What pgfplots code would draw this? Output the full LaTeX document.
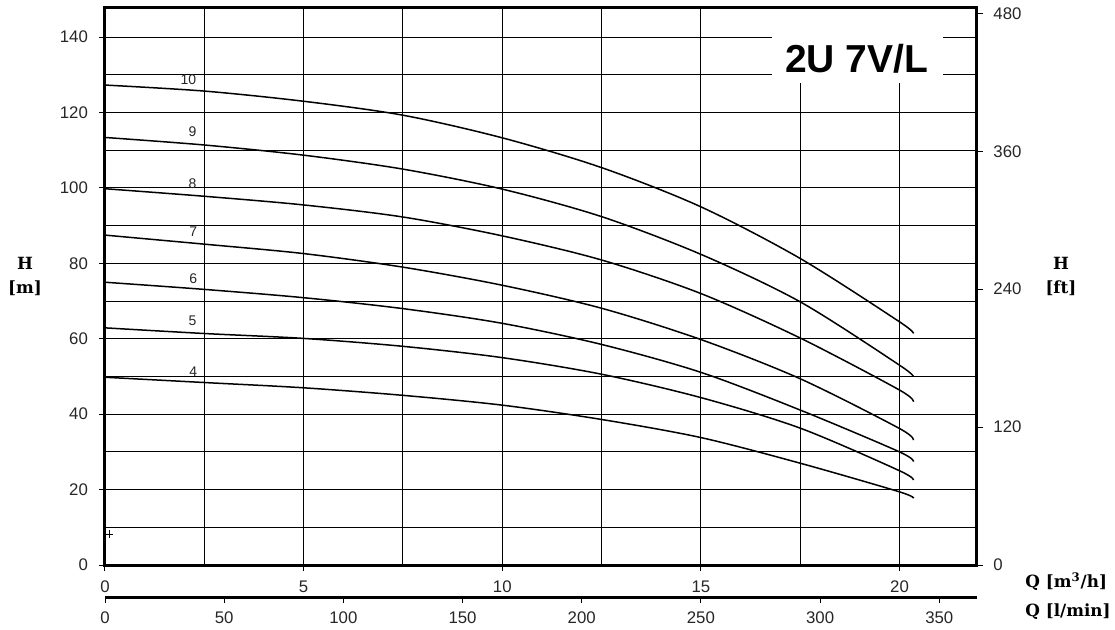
\documentclass[border=0pt]{standalone}
\usepackage{pgfplots}
\pgfplotsset{compat=1.18}
\usepackage{fontspec}
\setmainfont{Liberation Sans}
\newfontfamily\labfont{DejaVu Serif}

\begin{document}
\begin{tikzpicture}
\useasboundingbox (0,0) rectangle (557.5pt,314.5pt);
% ---------------- main axis (H in m, Q in m3/h)
\begin{axis}[
  at={(52.5pt,32pt)}, anchor=south west,
  scale only axis, width=436pt, height=279pt,
  xmin=0, xmax=21.95, ymin=0, ymax=148,
  xtick={0,5,...,20}, minor xtick={2.5,7.5,12.5,17.5},
  ytick={0,20,...,140}, minor ytick={10,30,...,130},
  grid=both,
  major grid style={black, line width=0.5pt},
  minor grid style={black, line width=0.5pt},
  axis line style={black, line width=1.5pt},
  tick align=outside, major tick length=3pt, minor tick length=0pt,
  tick style={black, line width=0.5pt},
  xtick pos=lower, ytick pos=left,
  /pgf/number format/assume math mode=true,
  tick label style={font=\fontsize{8.4}{9}\selectfont, text=black!85},
  yticklabel style={xshift=-2pt},
  xticklabel style={yshift=-1.5pt},
  clip=false,
]
\addplot[black, line width=0.75pt, smooth] coordinates {(0,127.3)(2.5,125.7)(5,123.0)(7.5,119.3)(10,113.3)(12.5,105.4)(15,95.0)(17.5,81.3)(20,64.5)(20.35,61.4)};
\addplot[black, line width=0.75pt, smooth] coordinates {(0,113.4)(2.5,111.4)(5,108.7)(7.5,105.0)(10,99.7)(12.5,92.4)(15,82.4)(17.5,69.8)(20,53.0)(20.35,49.9)};
\addplot[black, line width=0.75pt, smooth] coordinates {(0,99.8)(2.5,97.8)(5,95.5)(7.5,92.3)(10,87.3)(12.5,80.9)(15,72.0)(17.5,60.2)(20,46.4)(20.35,43.3)};
\addplot[black, line width=0.75pt, smooth] coordinates {(0,87.5)(2.5,85.1)(5,82.6)(7.5,79.0)(10,74.2)(12.5,68.1)(15,59.8)(17.5,49.4)(20,36.2)(20.35,33.1)};
\addplot[black, line width=0.75pt, smooth] coordinates {(0,75.0)(2.5,73.1)(5,70.9)(7.5,68.0)(10,64.1)(12.5,58.5)(15,51.1)(17.5,41.1)(20,30.0)(20.35,27.4)};
\addplot[black, line width=0.75pt, smooth] coordinates {(0,62.9)(2.5,61.4)(5,60.1)(7.5,58.0)(10,55.0)(12.5,50.6)(15,44.4)(17.5,36.3)(20,25.0)(20.35,22.5)};
\addplot[black, line width=0.75pt, smooth] coordinates {(0,49.8)(2.5,48.4)(5,47.0)(7.5,45.0)(10,42.4)(12.5,38.6)(15,33.8)(17.5,27.0)(20,19.4)(20.35,17.7)};
\addplot[black, only marks, mark=+, mark size=1.8pt, mark options={line width=0.4pt}] coordinates {(0.1,8.2)};
% curve labels
\begin{scope}[every node/.style={font=\fontsize{7}{8}\selectfont, text=black!85}]
\node at (axis cs:2.10,128.8) {10};
\node at (axis cs:2.20,114.9) {9};
\node at (axis cs:2.20,101.2) {8};
\node at (axis cs:2.22,88.4) {7};
\node at (axis cs:2.22,76.0) {6};
\node at (axis cs:2.20,64.7) {5};
\node at (axis cs:2.22,51.4) {4};
\end{scope}
% title box
\fill[white] (axis cs:16.78,127.8) rectangle (axis cs:21.09,147.4);
\node[anchor=base, font=\bfseries\fontsize{19.5}{20}\selectfont] at (axis cs:18.92,130.5) {2U 7V/L};
% axis labels
\begin{scope}[every node/.style={font=\labfont\bfseries\fontsize{8.4}{10}\selectfont}]
\node at (axis description cs:-0.0917,0.5412) {H};
\node at (axis description cs:-0.0917,0.4964) {[m]};
\node at (axis description cs:1.0963,0.5412) {H};
\node at (axis description cs:1.0963,0.4964) {[ft]};
\node[anchor=west, inner sep=0pt] at (axis description cs:1.055,-0.0296) {Q [m\textsuperscript{3}/h]};
\node[anchor=west, inner sep=0pt] at (axis description cs:1.055,-0.0833) {Q [l/min]};
\end{scope}
\end{axis}
% ---------------- right axis (H in ft)
\begin{axis}[
  at={(52.5pt,32pt)}, anchor=south west,
  scale only axis, width=436pt, height=279pt,
  xmin=0, xmax=21.95, ymin=0, ymax=485.56,
  axis y line*=right, axis x line=none,
  ytick={0,120,...,480},
  axis line style={black, line width=1.5pt},
  tick align=outside, major tick length=3pt,
  tick style={black, line width=0.5pt},
  /pgf/number format/assume math mode=true,
  tick label style={font=\fontsize{8.4}{9}\selectfont, text=black!85},
  yticklabel style={xshift=1.7pt},
]
\addplot[draw=none] coordinates {(0,0)};
\end{axis}
% ---------------- bottom axis (Q in l/min)
\begin{axis}[
  at={(52.5pt,16pt)}, anchor=south west,
  scale only axis, width=436pt, height=5pt,
  xmin=0, xmax=365.83, ymin=0, ymax=1,
  axis x line*=bottom, axis y line=none,
  xtick={0,50,...,350},
  axis line style={black, line width=1.5pt},
  tick align=outside, major tick length=3pt,
  tick style={black, line width=0.5pt},
  /pgf/number format/assume math mode=true,
  tick label style={font=\fontsize{8.4}{9}\selectfont, text=black!85},
  xticklabel style={yshift=-1pt},
]
\addplot[draw=none] coordinates {(0,0)};
\end{axis}
\end{tikzpicture}
\end{document}
